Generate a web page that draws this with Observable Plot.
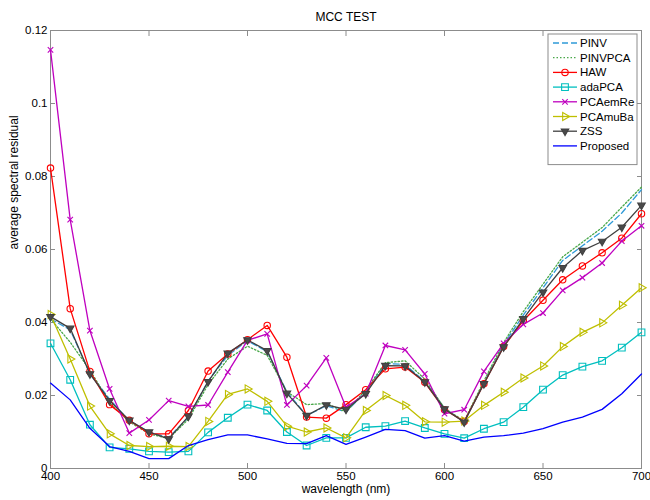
<!DOCTYPE html>
<html>
<head>
<meta charset="utf-8">
<script src="https://cdn.jsdelivr.net/npm/d3@7"></script>
<script src="https://cdn.jsdelivr.net/npm/@observablehq/plot@0.6"></script>
<style>
  body { margin: 0; background: #fff; }
  #chart { width: 650px; height: 500px; }
  #chart svg { font-family: "Liberation Sans", Arial, Helvetica, sans-serif; }
</style>
</head>
<body>
<div id="chart"></div>
<script>
// Wavelength samples (nm) and tick labels
const wavelengths = [400, 410, 420, 430, 440, 450, 460, 470, 480, 490, 500, 510, 520, 530, 540, 550,
                     560, 570, 580, 590, 600, 610, 620, 630, 640, 650, 660, 670, 680, 690, 700];
const xTicks = [400, 450, 500, 550, 600, 650, 700];
const yTicks = [0, 0.02, 0.04, 0.06, 0.08, 0.1, 0.12];

// Average spectral residual per method
const pinv = [0.0410, 0.0380, 0.0260, 0.0190, 0.0130, 0.0100, 0.0085, 0.0140, 0.0240, 0.0310, 0.0350,
              0.0320, 0.0210, 0.0145, 0.0172, 0.0155, 0.0210, 0.0288, 0.0285, 0.0238, 0.0165, 0.0128,
              0.0235, 0.0340, 0.0420, 0.0495, 0.0570, 0.0610, 0.0650, 0.0700, 0.0764];
const pinvpca = [0.0410, 0.0346, 0.0270, 0.0180, 0.0128, 0.0095, 0.0082, 0.0135, 0.0230, 0.0300, 0.0335,
                 0.0310, 0.0210, 0.0175, 0.0178, 0.0155, 0.0215, 0.0290, 0.0295, 0.0245, 0.0165, 0.0130,
                 0.0240, 0.0345, 0.0430, 0.0505, 0.0580, 0.0620, 0.0660, 0.0716, 0.0771];
const haw = [0.0823, 0.0438, 0.0266, 0.0175, 0.0132, 0.0095, 0.0095, 0.0159, 0.0267, 0.0314, 0.0353,
             0.0392, 0.0305, 0.0141, 0.0138, 0.0175, 0.0216, 0.0273, 0.0278, 0.0236, 0.0161, 0.0129,
             0.0232, 0.0334, 0.0405, 0.0461, 0.0517, 0.0555, 0.0591, 0.0631, 0.0698];
const adapca = [0.0343, 0.0243, 0.0120, 0.0058, 0.0054, 0.0047, 0.0045, 0.0047, 0.0099, 0.0139, 0.0175,
                0.0159, 0.0100, 0.0063, 0.0084, 0.0084, 0.0113, 0.0116, 0.0130, 0.0111, 0.0095, 0.0083,
                0.0109, 0.0127, 0.0168, 0.0216, 0.0256, 0.0279, 0.0295, 0.0331, 0.0373];
const pcaemre = [0.1147, 0.0682, 0.0378, 0.0218, 0.0097, 0.0133, 0.0186, 0.0170, 0.0174, 0.0264, 0.0351,
                 0.0369, 0.0174, 0.0227, 0.0303, 0.0168, 0.0205, 0.0337, 0.0325, 0.0259, 0.0150, 0.0161,
                 0.0266, 0.0343, 0.0395, 0.0426, 0.0488, 0.0523, 0.0563, 0.0623, 0.0665];
const pcamuba = [0.0422, 0.0300, 0.0171, 0.0095, 0.0063, 0.0060, 0.0061, 0.0060, 0.0129, 0.0203, 0.0218,
                 0.0184, 0.0116, 0.0100, 0.0111, 0.0084, 0.0159, 0.0200, 0.0173, 0.0128, 0.0127, 0.0130,
                 0.0173, 0.0209, 0.0248, 0.0281, 0.0334, 0.0373, 0.0399, 0.0447, 0.0495];
const zss = [0.0416, 0.0384, 0.0259, 0.0186, 0.0132, 0.0100, 0.0081, 0.0143, 0.0238, 0.0316, 0.0352,
             0.0323, 0.0206, 0.0145, 0.0174, 0.0162, 0.0205, 0.0282, 0.0281, 0.0237, 0.0163, 0.0127,
             0.0232, 0.0333, 0.0410, 0.0483, 0.0550, 0.0597, 0.0622, 0.0661, 0.0721];
const proposed = [0.0234, 0.0188, 0.0110, 0.0060, 0.0047, 0.0027, 0.0027, 0.0063, 0.0079, 0.0092, 0.0092,
                  0.0081, 0.0069, 0.0068, 0.0090, 0.0066, 0.0086, 0.0107, 0.0104, 0.0083, 0.0090, 0.0075,
                  0.0086, 0.0090, 0.0097, 0.0109, 0.0127, 0.0141, 0.0162, 0.0205, 0.0259];

// Drawing style for each method, in drawing order
const series = [
  {name: "PINV",     values: pinv,     stroke: "#2f9ad8", dash: "6,3"},
  {name: "PINVPCA",  values: pinvpca,  stroke: "#4aa84a", dash: "1.5,2"},
  {name: "HAW",      values: haw,      stroke: "#ff0000", symbol: "circle",   r: 3.2},
  {name: "adaPCA",   values: adapca,   stroke: "#00bfbf", symbol: "square",   r: 3.8},
  {name: "PCAemRe",  values: pcaemre,  stroke: "#bf00bf", symbol: "times",    r: 2.6},
  {name: "PCAmuBa",  values: pcamuba,  stroke: "#bfbf00", symbol: "triangle", r: 3.0, rotate: 90},
  {name: "ZSS",      values: zss,      stroke: "#404040", symbol: "triangle", r: 2.8, rotate: 180, fill: "#4a4a4a"},
  {name: "Proposed", values: proposed, stroke: "#0000ff"}
];

const rows = series.flatMap(s =>
  s.values.map((v, i) => ({method: s.name, wavelength: wavelengths[i], value: v})));

const axisGray = "#8c8c8c";
const marks = [];
for (const s of series) {
  const data = rows.filter(d => d.method === s.name);
  marks.push(Plot.line(data, {
    x: "wavelength", y: "value", stroke: s.stroke, strokeWidth: 1.3,
    strokeDasharray: s.dash
  }));
  if (s.symbol) {
    marks.push(Plot.dot(data, {
      x: "wavelength", y: "value", symbol: s.symbol, r: s.r,
      stroke: s.stroke, fill: s.fill || "none", strokeWidth: 1.1, rotate: s.rotate || 0
    }));
  }
}

const chart = Plot.plot({
  width: 650,
  height: 500,
  marginLeft: 50,
  marginRight: 9,
  marginTop: 30,
  marginBottom: 32,
  style: {fontSize: "11.5px", fontFamily: "'Liberation Sans', Arial, Helvetica, sans-serif", color: "#000"},
  x: {domain: [400, 700]},
  y: {domain: [0, 0.12]},
  marks: [
    Plot.frame({stroke: axisGray}),
    // labelled axes with inward ticks
    Plot.axisX(xTicks, {anchor: "bottom", tickSize: -5, tickPadding: 8, stroke: axisGray, fill: "#000",
                        label: null, fontSize: 11.5}),
    Plot.axisY(yTicks, {anchor: "left", tickSize: -5, tickPadding: 8, stroke: axisGray, fill: "#000",
                        label: null, fontSize: 11.5, tickFormat: d3.format("~g")}),
    // mirrored ticks on the top and right edges
    Plot.axisX(xTicks, {anchor: "top", tickSize: -5, stroke: axisGray, tickFormat: () => "", label: null}),
    Plot.axisY(yTicks, {anchor: "right", tickSize: -5, stroke: axisGray, tickFormat: () => "", label: null}),
    ...marks,
    Plot.text(["MCC TEST"], {frameAnchor: "top", dy: -18, fontSize: 12, fill: "#000"}),
    Plot.text(["wavelength (nm)"], {frameAnchor: "bottom", dy: 24.5, fontSize: 12, fill: "#000"}),
    Plot.text(["average spectral residual"], {frameAnchor: "left", dx: -36, rotate: -90, fontSize: 12, fill: "#000"})
  ]
});

document.getElementById("chart").appendChild(chart);

// Legend box in the upper-right corner of the axes
const svg = d3.select(chart);
const box = {x: 548, y: 34, w: 89, rowH: 14.7, pad: 9};
const legend = svg.append("g").attr("class", "legend").attr("text-anchor", "start");
legend.append("rect")
  .attr("x", box.x).attr("y", box.y)
  .attr("width", box.w).attr("height", box.pad + series.length * box.rowH + 4)
  .attr("fill", "#fff").attr("stroke", axisGray).attr("stroke-width", 1);
const symbolTypes = {circle: d3.symbolCircle, square: d3.symbolSquare, times: d3.symbolTimes, triangle: d3.symbolTriangle};
series.forEach((s, i) => {
  const cy = box.y + box.pad + i * box.rowH;
  const g = legend.append("g");
  g.append("line")
    .attr("x1", box.x + 5).attr("x2", box.x + 29).attr("y1", cy).attr("y2", cy)
    .attr("stroke", s.stroke).attr("stroke-width", 1.3)
    .attr("stroke-dasharray", s.dash || null);
  if (s.symbol) {
    g.append("path")
      .attr("d", d3.symbol(symbolTypes[s.symbol], s.r * s.r * Math.PI)())
      .attr("transform", `translate(${box.x + 17},${cy}) rotate(${s.rotate || 0})`)
      .attr("fill", s.fill || "none").attr("stroke", s.stroke).attr("stroke-width", 1.1);
  }
  g.append("text")
    .attr("x", box.x + 32).attr("y", cy).attr("dy", "0.35em")
    .attr("text-anchor", "start")
    .attr("font-size", 11.5).attr("fill", "#000")
    .text(s.name);
});
</script>
</body>
</html>
